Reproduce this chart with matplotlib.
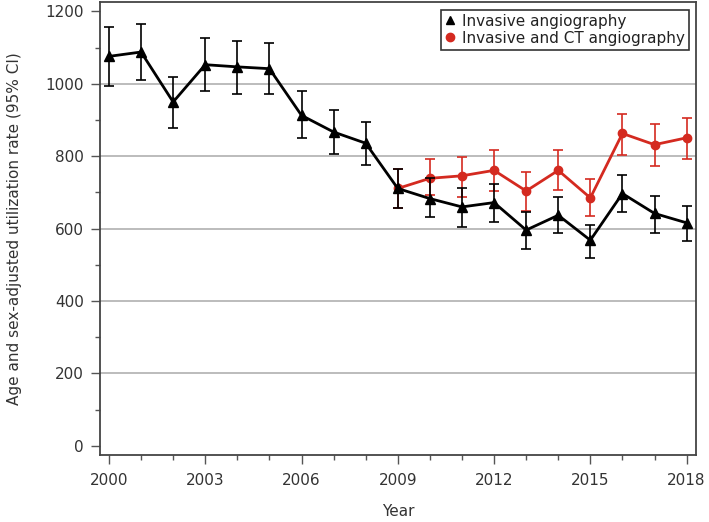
import numpy as np
import matplotlib as mpl
import matplotlib.pyplot as plt
from matplotlib.lines import Line2D
from matplotlib.ticker import MultipleLocator

mpl.use('Agg')

years = list(range(2000, 2019))

# Invasive angiography (rate, lower CI, upper CI)
inv_rate = [1076, 1088, 950, 1053, 1047, 1042, 913, 867, 836, 711,
            683, 660, 672, 596, 637, 568, 697, 642, 616]
inv_low = [994, 1010, 878, 980, 973, 973, 851, 805, 775, 656,
           631, 605, 619, 545, 587, 518, 645, 589, 566]
inv_high = [1156, 1166, 1019, 1128, 1119, 1114, 981, 929, 896, 766,
            739, 713, 723, 645, 688, 611, 748, 691, 662]

# Invasive and CT angiography, from 2009
ct_years = list(range(2009, 2019))
ct_rate = [711, 739, 746, 761, 704, 761, 685, 863, 832, 851]
ct_low = [656, 692, 688, 704, 649, 706, 634, 803, 773, 792]
ct_high = [766, 792, 798, 817, 757, 817, 737, 918, 888, 907]

grid_levels = [200, 400, 600, 800, 1000]
red = '#d42a20'

plt.rcParams['font.family'] = ['DejaVu Sans']
plt.rcParams['font.size'] = 11

fig = plt.figure(figsize=(7.09, 5.22), dpi=100)
ax = fig.add_axes([0.141, 0.128, 0.841, 0.868])

for g in grid_levels:
    ax.axhline(g, color='#b0b0b0', lw=1.2, zorder=0)

ct = np.array(ct_rate)
ax.errorbar(ct_years, ct, yerr=[ct - np.array(ct_low), np.array(ct_high) - ct],
            color=red, ecolor=red, lw=2, elinewidth=1.2, capsize=3.6,
            capthick=1.2, marker='o', ms=6, zorder=2)

inv = np.array(inv_rate)
ax.errorbar(years, inv, yerr=[inv - np.array(inv_low), np.array(inv_high) - inv],
            color='black', ecolor='black', lw=2, elinewidth=1.2, capsize=3.6,
            capthick=1.2, marker='^', ms=7, zorder=3)

ax.set_xlim(1999.72, 2018.3)
ax.set_ylim(-26, 1226)
ax.set_xticks(range(2000, 2019, 3))
ax.xaxis.set_minor_locator(MultipleLocator(1))
ax.set_yticks(range(0, 1201, 200))
ax.yaxis.set_minor_locator(MultipleLocator(100))
ax.tick_params(which='major', length=6.5, width=1, color='#555555', labelcolor='#333333')
ax.tick_params(which='minor', length=3.6, width=1, color='#555555')
ax.tick_params(axis='x', which='major', pad=6)
ax.tick_params(axis='y', which='major', pad=5)
for s in ax.spines.values():
    s.set_color('#444444')
    s.set_linewidth(1.3)

ax.set_xlabel('Year', color='#333333', labelpad=12)
ax.set_ylabel('Age and sex-adjusted utilization rate (95% CI)', color='#333333')
ax.yaxis.set_label_coords(-0.131, 0.5)

handles = [Line2D([], [], ls='none', marker='^', color='black', ms=6),
           Line2D([], [], ls='none', marker='o', color=red, ms=6)]
labels = ['Invasive angiography', 'Invasive and CT angiography']
leg = ax.legend(handles, labels, loc='upper right', frameon=True, fancybox=False,
                edgecolor='black', borderpad=0.25, handlelength=0.6, handletextpad=0.5,
                labelspacing=0.15, borderaxespad=0.5)
leg.get_frame().set_linewidth(1.2)
for t in leg.get_texts():
    t.set_color('#222222')

fig.savefig('out.png', dpi=100)
